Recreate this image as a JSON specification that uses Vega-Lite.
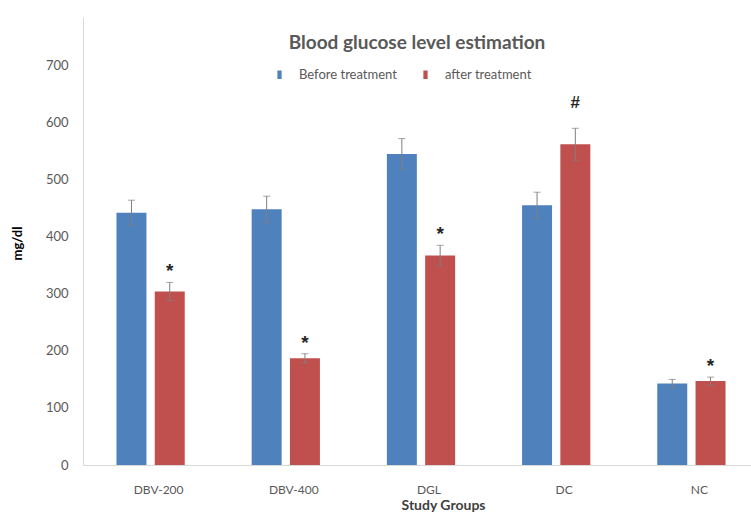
{
  "$schema": "https://vega.github.io/schema/vega-lite/v6.json",
  "autosize": {"type": "none"},
  "padding": {"left": 83, "top": 17, "right": 0, "bottom": 47},
  "width": 668,
  "height": 448,
  "background": "white",
  "title": {
    "text": "Blood glucose level estimation",
    "fontSize": 19,
    "fontWeight": "bold",
    "color": "#595959",
    "font": "Lato, sans-serif",
    "anchor": "middle",
    "frame": "group",
    "baseline": "middle",
    "offset": -45
  },
  "config": {
    "view": {"stroke": null},
    "font": "Lato, sans-serif",
    "axis": {"grid": false, "ticks": false, "domainColor": "#d9d9d9", "labelColor": "#595959", "labelFont": "Lato, sans-serif"}
  },
  "data": {
    "values": [
      {"group": "DBV-200", "series": "Before treatment", "value": 442, "lo": 420, "hi": 464, "mark": ""},
      {"group": "DBV-200", "series": "after treatment", "value": 304, "lo": 288, "hi": 320, "mark": "*"},
      {"group": "DBV-400", "series": "Before treatment", "value": 448, "lo": 425, "hi": 471, "mark": ""},
      {"group": "DBV-400", "series": "after treatment", "value": 187, "lo": 179, "hi": 195, "mark": "*"},
      {"group": "DGL", "series": "Before treatment", "value": 545, "lo": 518, "hi": 572, "mark": ""},
      {"group": "DGL", "series": "after treatment", "value": 367, "lo": 349, "hi": 385, "mark": "*"},
      {"group": "DC", "series": "Before treatment", "value": 455, "lo": 432, "hi": 478, "mark": ""},
      {"group": "DC", "series": "after treatment", "value": 562, "lo": 534, "hi": 590, "mark": "#"},
      {"group": "NC", "series": "Before treatment", "value": 143, "lo": 136, "hi": 150, "mark": ""},
      {"group": "NC", "series": "after treatment", "value": 147, "lo": 140, "hi": 154, "mark": "*"}
    ]
  },
  "encoding": {
    "x": {
      "field": "group", "type": "nominal", "sort": null,
      "scale": {"range": [0, 676], "paddingInner": 0.495, "paddingOuter": 0.2475},
      "axis": {"labelAngle": 0, "labelFontSize": 12, "labelPadding": 19, "labelOffset": 8, "title": "Study Groups", "titleFontSize": 14, "titleFontWeight": "bold", "titleColor": "#404040", "titlePadding": 3, "titleX": 360, "titleFont": "Lato, sans-serif"}
    },
    "xOffset": {"field": "series", "type": "nominal", "sort": ["Before treatment", "after treatment"], "scale": {"paddingInner": 0.2167, "paddingOuter": 0}}
  },
  "layer": [
    {
      "mark": {"type": "bar"},
      "encoding": {
        "y": {
          "field": "value", "type": "quantitative",
          "scale": {"domain": [0, 785], "nice": false},
          "axis": {"values": [0, 100, 200, 300, 400, 500, 600, 700], "labelFontSize": 13, "labelPadding": 15, "title": "mg/dl", "titleFontSize": 13, "titleFontWeight": "bold", "titleColor": "#000000", "titleX": -66, "titleY": 226, "titleBaseline": "middle", "titleFont": "Lato, sans-serif"}
        },
        "color": {
          "field": "series", "type": "nominal",
          "scale": {"domain": ["Before treatment", "after treatment"], "range": ["#4F81BD", "#C0504D"]},
          "legend": {
            "title": null, "orient": "none", "direction": "horizontal",
            "legendX": 190, "legendY": 51,
            "symbolType": "M-0.5,-1H0.5V1H-0.5Z", "symbolSize": 72,
            "labelFontSize": 13, "labelColor": "#595959", "labelOffset": 13, "columnPadding": 22,
            "labelFont": "Lato, sans-serif"
          }
        }
      }
    },
    {
      "mark": {"type": "rule", "color": "#7f7f7f", "strokeWidth": 1},
      "encoding": {"y": {"field": "lo", "type": "quantitative"}, "y2": {"field": "hi"}}
    },
    {
      "mark": {"type": "tick", "color": "#7f7f7f", "thickness": 1, "size": 7, "orient": "horizontal"},
      "encoding": {"y": {"field": "hi", "type": "quantitative"}}
    },
    {
      "mark": {"type": "tick", "color": "#7f7f7f", "thickness": 1, "size": 7, "orient": "horizontal"},
      "encoding": {"y": {"field": "lo", "type": "quantitative"}}
    },
    {
      "transform": [{"filter": "datum.mark == '*'"}],
      "mark": {"type": "text", "fontSize": 19, "fontWeight": "bold", "color": "#262626", "baseline": "alphabetic", "dy": -5, "font": "Liberation Sans, sans-serif"},
      "encoding": {"y": {"field": "hi", "type": "quantitative"}, "text": {"field": "mark"}}
    },
    {
      "transform": [{"filter": "datum.mark == '#'"}],
      "mark": {"type": "text", "fontSize": 17, "fontWeight": "bold", "color": "#262626", "baseline": "alphabetic", "dy": -20, "font": "Liberation Sans, sans-serif"},
      "encoding": {"y": {"field": "hi", "type": "quantitative"}, "text": {"field": "mark"}}
    }
  ]
}
